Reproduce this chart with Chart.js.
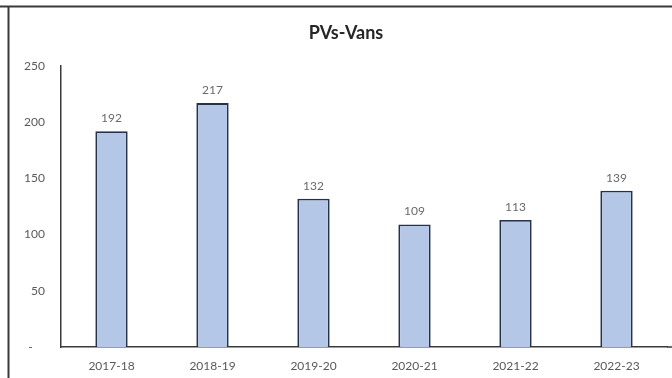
<!DOCTYPE html>
<html>
<head>
<meta charset="utf-8">
<script src="https://cdn.jsdelivr.net/npm/chart.js@4/dist/chart.umd.min.js"></script>
<style>
  html, body { margin: 0; padding: 0; background: #fff; }
  #wrap { width: 672px; height: 378px; position: relative; }
</style>
</head>
<body>
<div id="wrap"><canvas id="c" width="672" height="378"></canvas></div>
<script>
// Fiscal years and annual PV van volumes
const years = ['2017-18', '2018-19', '2019-20', '2020-21', '2021-22', '2022-23'];
const volumes = [192, 217, 132, 109, 113, 139];
const yTicks = [0, 50, 100, 150, 200, 250];
const chartTitle = 'PVs-Vans';

const TEXT = '#595959';
const FONT = 'Lato, "Open Sans", "Liberation Sans", sans-serif';

// Frame lines along the top and left edges, and the baseline run-out to the right edge
const framePlugin = {
  id: 'frame',
  beforeDraw(chart) {
    const ctx = chart.ctx;
    ctx.save();
    ctx.fillStyle = '#fff';
    ctx.fillRect(0, 0, chart.width, chart.height);
    ctx.strokeStyle = '#3a3a3a';
    ctx.lineWidth = 2;
    ctx.beginPath();
    ctx.moveTo(0, 6.5);
    ctx.lineTo(chart.width, 6.5);
    ctx.moveTo(8.5, 6.5);
    ctx.lineTo(8.5, chart.height);
    ctx.stroke();
    ctx.restore();
  },
  afterDraw(chart) {
    const ctx = chart.ctx;
    const a = chart.chartArea;
    ctx.save();
    ctx.strokeStyle = '#3a3a3a';
    ctx.lineWidth = 1.5;
    ctx.beginPath();
    ctx.moveTo(a.right, a.bottom);
    ctx.lineTo(chart.width, a.bottom);
    ctx.stroke();
    ctx.restore();
  }
};

// Chart heading
const headingPlugin = {
  id: 'heading',
  afterDraw(chart) {
    const ctx = chart.ctx;
    ctx.save();
    ctx.font = 'bold 18px ' + FONT;
    ctx.fillStyle = '#262626';
    ctx.textAlign = 'center';
    ctx.textBaseline = 'middle';
    ctx.fillText(chartTitle, 346, 33);
    ctx.restore();
  }
};

// Value labels above each bar
const valueLabels = {
  id: 'valueLabels',
  afterDatasetsDraw(chart) {
    const ctx = chart.ctx;
    const meta = chart.getDatasetMeta(0);
    const data = chart.data.datasets[0].data;
    ctx.save();
    ctx.font = '12px ' + FONT;
    ctx.fillStyle = '#6a6a6a';
    ctx.textAlign = 'center';
    ctx.textBaseline = 'bottom';
    meta.data.forEach((bar, i) => {
      ctx.fillText(String(data[i]), bar.x, bar.y - 7);
    });
    ctx.restore();
  }
};

new Chart(document.getElementById('c'), {
  type: 'bar',
  data: {
    labels: years,
    datasets: [{
      data: volumes,
      backgroundColor: '#b4c7e7',
      borderColor: '#263247',
      borderWidth: 1.8,
      borderSkipped: 'bottom',
      categoryPercentage: 1,
      barPercentage: 0.32
    }]
  },
  options: {
    responsive: false,
    animation: false,
    events: [],
    layout: { padding: { top: 66, left: 20, right: 5, bottom: 0 } },
    plugins: {
      legend: { display: false },
      title: { display: false },
      tooltip: { enabled: false }
    },
    scales: {
      x: {
        grid: { display: false, drawTicks: false },
        border: { display: true, color: '#3a3a3a', width: 1.5 },
        ticks: { color: TEXT, font: { family: FONT, size: 12 }, padding: 12, maxRotation: 0 },
        afterFit(scale) { scale.height = 31; }
      },
      y: {
        min: 0,
        max: 250,
        grid: { display: false, drawTicks: false },
        border: { display: true, color: '#3a3a3a', width: 1.5 },
        afterBuildTicks(scale) { scale.ticks = yTicks.map(v => ({ value: v })); },
        ticks: {
          color: TEXT,
          font: { family: FONT, size: 12 },
          padding: 16,
          callback: v => (v === 0 ? '-    ' : String(v))
        },
        afterFit(scale) { scale.width = 41; }
      }
    }
  },
  plugins: [framePlugin, valueLabels, headingPlugin]
});
</script>
</body>
</html>
